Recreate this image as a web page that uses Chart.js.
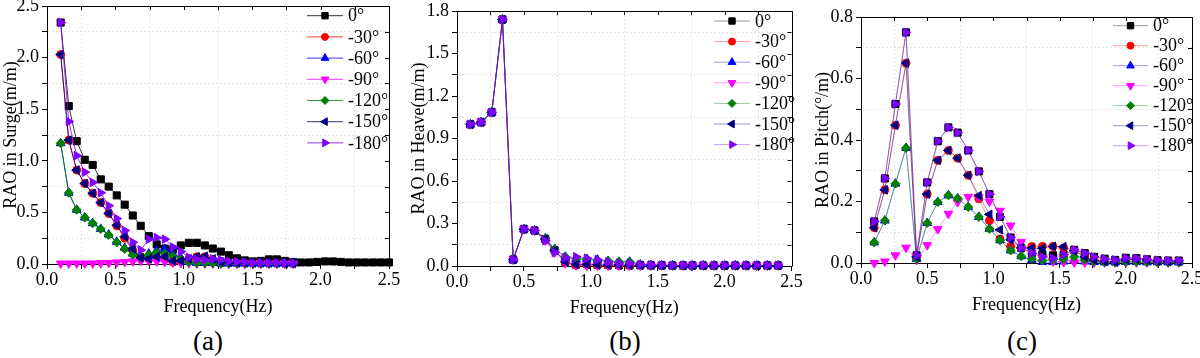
<!DOCTYPE html>
<html>
<head>
<meta charset="utf-8">
<script src="https://cdn.jsdelivr.net/npm/chart.js@4/dist/chart.umd.min.js"></script>
<style>
  body { margin: 0; width: 1200px; height: 358px; overflow: hidden; background: #fff; position: relative;
         font-family: 'Liberation Serif', 'Times New Roman', serif; }
  .panel { position: absolute; top: -10px; height: 330px; }
  .cap { position: absolute; top: 326px; font-size: 27px; line-height: 30px; transform: translateX(-50%); color: #000; }
</style>
</head>
<body>
<div class="panel" style="left:0;width:412px"><canvas id="chartSurge"></canvas></div>
<div class="panel" style="left:400px;width:412px"><canvas id="chartHeave"></canvas></div>
<div class="panel" style="left:800px;width:412px"><canvas id="chartPitch"></canvas></div>
<div class="cap" style="left:208px">(a)</div>
<div class="cap" style="left:625px">(b)</div>
<div class="cap" style="left:1022px">(c)</div>
<script>
// ---- series (wave headings) ----
var seriesLabels = ['0°', '-30°', '-60°', '-90°', '-120°', '-150°', '-180°'];
var seriesColors = ['#000000', '#ff0000', '#0000ff', '#ff00ff', '#008000', '#000080', '#8000ff'];
var markerStyles = ['rect', 'circle', 'triangle', 'triangle', 'rectRot', 'triangle', 'triangle'];
var markerRotation = [0, 0, 0, 180, 0, -90, 90];
var markerRadius = [5, 4, 5, 5, 4.5, 5, 5];

// ---- (a) surge ----
var freqSurge = [0.100, 0.159, 0.217, 0.276, 0.334, 0.393, 0.451, 0.510, 0.568, 0.627, 0.685, 0.744, 0.802, 0.861,
  0.920, 0.978, 1.037, 1.095, 1.154, 1.212, 1.271, 1.329, 1.388, 1.446, 1.505, 1.563, 1.622, 1.680, 1.739, 1.798,
  1.856, 1.915, 1.973, 2.032, 2.090, 2.149, 2.207, 2.266, 2.324, 2.383, 2.441, 2.500];
var surge0 = [2.34, 1.53, 1.19, 1.01, 0.96, 0.82, 0.75, 0.665, 0.575, 0.47, 0.37, 0.27, 0.19, 0.15, 0.14, 0.18, 0.205,
  0.205, 0.18, 0.15, 0.12, 0.085, 0.055, 0.035, 0.025, 0.03, 0.045, 0.045, 0.03, 0.02, 0.015, 0.015, 0.02, 0.025,
  0.025, 0.02, 0.015, 0.015, 0.015, 0.015, 0.015, 0.015];
var surge30 = [2.03, 1.20, 0.91, 0.78, 0.685, 0.595, 0.49, 0.37, 0.25, 0.13, 0.07, 0.05, 0.06, 0.05, 0.02, 0.03, 0.05,
  0.07, 0.07, 0.04, 0.02, 0.015, 0.01, 0.01, 0.01, 0.01, 0.01, 0.01, 0.005, 0.005];
var surge60 = [1.17, 0.69, 0.525, 0.45, 0.395, 0.34, 0.285, 0.215, 0.155, 0.10, 0.07, 0.10, 0.13, 0.145, 0.10, 0.06,
  0.02, 0.01, 0.01, 0.01, 0.005, 0.005, 0.005, 0.005, 0.005, 0.005, 0.005, 0.005, 0.005, 0.005];
var surge90 = [0.005, 0.005, 0.005, 0.005, 0.006, 0.008, 0.01, 0.015, 0.02, 0.025, 0.03, 0.03, 0.025, 0.02, 0.015,
  0.01, 0.008, 0.005, 0.005, 0.004, 0.004, 0.003, 0.003, 0.003, 0.003, 0.003, 0.003, 0.003, 0.003, 0.003];
var surge120 = [1.17, 0.69, 0.525, 0.45, 0.395, 0.34, 0.28, 0.21, 0.145, 0.09, 0.07, 0.09, 0.11, 0.10, 0.075, 0.045,
  0.02, 0.01, 0.01, 0.01, 0.005, 0.005, 0.005, 0.005, 0.005, 0.005, 0.005, 0.005, 0.005, 0.005];
var surge150 = [2.03, 1.20, 0.91, 0.78, 0.685, 0.595, 0.49, 0.375, 0.265, 0.15, 0.06, 0.05, 0.07, 0.07, 0.03, 0.03,
  0.05, 0.07, 0.075, 0.05, 0.02, 0.015, 0.01, 0.01, 0.01, 0.01, 0.01, 0.01, 0.005, 0.005];
var surge180 = [2.34, 1.38, 1.05, 0.89, 0.79, 0.69, 0.565, 0.44, 0.325, 0.21, 0.135, 0.24, 0.255, 0.24, 0.165, 0.12,
  0.065, 0.045, 0.04, 0.05, 0.04, 0.025, 0.02, 0.015, 0.01, 0.01, 0.01, 0.01, 0.01, 0.01];

// ---- (b) heave and (c) pitch share one frequency grid ----
var freqWave = [0.10, 0.18, 0.26, 0.34, 0.42, 0.50, 0.58, 0.66, 0.73, 0.81, 0.89, 0.97, 1.05, 1.13, 1.21, 1.29, 1.37,
  1.45, 1.53, 1.61, 1.69, 1.76, 1.84, 1.92, 2.00, 2.08, 2.16, 2.24, 2.32, 2.40];
var heave0 = [1.00, 1.015, 1.085, 1.74, 0.045, 0.26, 0.25, 0.19, 0.11, 0.03, 0.01, 0.015, 0.01, 0.008, 0.006, 0.005,
  0.005, 0.004, 0.004, 0.003, 0.003, 0.003, 0.003, 0.003, 0.003, 0.003, 0.003, 0.003, 0.003, 0.003];
var heave30 = [1.00, 1.015, 1.085, 1.74, 0.045, 0.26, 0.25, 0.19, 0.11, 0.025, 0.005, 0.008, 0.006, 0.005, 0.005,
  0.004, 0.004, 0.004, 0.003, 0.003, 0.003, 0.003, 0.003, 0.003, 0.003, 0.003, 0.003, 0.003, 0.003, 0.003];
var heave60 = [1.00, 1.015, 1.085, 1.74, 0.045, 0.26, 0.25, 0.195, 0.12, 0.065, 0.05, 0.05, 0.045, 0.035, 0.03, 0.03,
  0.01, 0.006, 0.005, 0.004, 0.004, 0.004, 0.004, 0.004, 0.004, 0.004, 0.004, 0.004, 0.004, 0.004];
var heave90 = [1.00, 1.015, 1.085, 1.74, 0.045, 0.26, 0.25, 0.18, 0.095, 0.02, 0.005, 0.004, 0.004, 0.003, 0.003,
  0.003, 0.003, 0.003, 0.003, 0.003, 0.003, 0.003, 0.003, 0.003, 0.003, 0.003, 0.003, 0.003, 0.003, 0.003];
var heave120 = [1.00, 1.015, 1.085, 1.74, 0.045, 0.26, 0.25, 0.195, 0.12, 0.065, 0.05, 0.05, 0.04, 0.035, 0.03, 0.03,
  0.01, 0.005, 0.005, 0.004, 0.004, 0.004, 0.004, 0.004, 0.004, 0.004, 0.004, 0.004, 0.004, 0.004];
var heave150 = [1.00, 1.015, 1.085, 1.74, 0.045, 0.26, 0.25, 0.19, 0.11, 0.03, 0.01, 0.01, 0.008, 0.006, 0.005, 0.005,
  0.004, 0.004, 0.004, 0.003, 0.003, 0.003, 0.003, 0.003, 0.003, 0.003, 0.003, 0.003, 0.003, 0.003];
var heave180 = [1.00, 1.015, 1.085, 1.74, 0.045, 0.26, 0.25, 0.18, 0.095, 0.06, 0.065, 0.055, 0.045, 0.03, 0.02, 0.02,
  0.01, 0.008, 0.006, 0.005, 0.005, 0.005, 0.005, 0.005, 0.005, 0.005, 0.005, 0.005, 0.005, 0.005];

var pitch0 = [0.135, 0.275, 0.517, 0.75, 0.025, 0.262, 0.396, 0.441, 0.424, 0.366, 0.298, 0.224, 0.15, 0.083, 0.049,
  0.032, 0.028, 0.025, 0.027, 0.043, 0.032, 0.02, 0.014, 0.01, 0.017, 0.016, 0.012, 0.009, 0.008, 0.008];
var pitch30 = [0.115, 0.238, 0.448, 0.65, 0.02, 0.224, 0.334, 0.366, 0.341, 0.285, 0.209, 0.138, 0.078, 0.054, 0.049,
  0.054, 0.054, 0.054, 0.049, 0.04, 0.02, 0.01, 0.005, 0.003, 0.01, 0.012, 0.01, 0.006, 0.005, 0.005];
var pitch60 = [0.067, 0.138, 0.258, 0.374, 0.013, 0.13, 0.198, 0.22, 0.21, 0.182, 0.15, 0.111, 0.074, 0.041, 0.022,
  0.01, 0.003, 0.003, 0.005, 0.01, 0.005, 0.003, 0.002, 0.002, 0.003, 0.003, 0.002, 0.002, 0.002, 0.002];
var pitch90 = [0.0, 0.005, 0.025, 0.05, 0.01, 0.058, 0.11, 0.16, 0.198, 0.215, 0.215, 0.20, 0.17, 0.122, 0.068, 0.035,
  0.015, 0.005, 0.003, 0.002, 0.002, 0.002, 0.002, 0.002, 0.002, 0.002, 0.002, 0.002, 0.002, 0.002];
var pitch120 = [0.067, 0.138, 0.258, 0.374, 0.013, 0.13, 0.198, 0.22, 0.21, 0.182, 0.15, 0.111, 0.074, 0.041, 0.022,
  0.014, 0.008, 0.011, 0.013, 0.02, 0.011, 0.005, 0.003, 0.002, 0.004, 0.004, 0.003, 0.002, 0.002, 0.002];
var pitch150 = [0.115, 0.238, 0.448, 0.65, 0.02, 0.224, 0.334, 0.366, 0.341, 0.285, 0.219, 0.158, 0.108, 0.076, 0.049,
  0.048, 0.048, 0.054, 0.053, 0.04, 0.02, 0.01, 0.005, 0.003, 0.01, 0.012, 0.01, 0.006, 0.005, 0.005];
var pitch180 = [0.135, 0.275, 0.517, 0.75, 0.025, 0.262, 0.396, 0.441, 0.424, 0.366, 0.298, 0.224, 0.15, 0.083, 0.049,
  0.032, 0.02, 0.015, 0.027, 0.043, 0.032, 0.02, 0.014, 0.01, 0.016, 0.015, 0.012, 0.009, 0.008, 0.008];

var serif = "'Liberation Serif', 'Times New Roman', serif";
Chart.defaults.font.family = serif;
Chart.defaults.font.size = 18;
Chart.defaults.color = '#000';

function withAlpha(hex, a) {
    var r = parseInt(hex.substr(1, 2), 16), g = parseInt(hex.substr(3, 2), 16), b = parseInt(hex.substr(5, 2), 16);
    return 'rgba(' + r + ',' + g + ',' + b + ',' + a + ')';
}

function isMajor(v, major) {
    var q = v / major;
    return Math.abs(q - Math.round(q)) < 1e-6;
}

function buildSets(freqs, values, lineAlpha) {
    return seriesLabels.map(function(lab, i) {
        var xs = freqs[i];
        return {
            label: lab,
            data: values[i].map(function(v, j) { return { x: xs[j], y: v }; }),
            borderColor: withAlpha(seriesColors[i], lineAlpha),
            backgroundColor: seriesColors[i],
            pointBackgroundColor: seriesColors[i],
            pointBorderColor: seriesColors[i],
            pointStyle: markerStyles[i],
            pointRotation: markerRotation[i],
            pointRadius: markerRadius[i],
            pointBorderWidth: 1,
            borderWidth: 1,
            tension: 0,
            clip: false,
            order: 7 - i
        };
    });
}

// frame on top/right with inward ticks (Origin style box)
var framePlugin = {
    id: 'frame',
    beforeDatasetsDraw: function(chart) {
        var a = chart.chartArea, ctx = chart.ctx;
        var xs = chart.scales.x, ys = chart.scales.y;
        ctx.save();
        ctx.strokeStyle = '#000';
        ctx.lineWidth = 1;
        ctx.beginPath();
        ctx.moveTo(Math.round(a.left) + 0.5, Math.round(a.top) + 0.5);
        ctx.lineTo(Math.round(a.right) + 0.5, Math.round(a.top) + 0.5);
        ctx.lineTo(Math.round(a.right) + 0.5, Math.round(a.bottom) + 0.5);
        xs.ticks.forEach(function(t) {
            var px = Math.round(xs.getPixelForValue(t.value)) + 0.5;
            ctx.moveTo(px, a.top);
            ctx.lineTo(px, a.top + 4);
        });
        ys.ticks.forEach(function(t) {
            var py = Math.round(ys.getPixelForValue(t.value)) + 0.5;
            ctx.moveTo(a.right, py);
            ctx.lineTo(a.right - 4, py);
        });
        ctx.stroke();
        ctx.restore();
    }
};

// legend drawn inside the plot: line + marker + label
var boxLegend = {
    id: 'boxLegend',
    afterDraw: function(chart, args, opts) {
        var ctx = chart.ctx;
        ctx.save();
        chart.data.datasets.forEach(function(ds, i) {
            var y = opts.y + i * opts.dy;
            ctx.strokeStyle = ds.borderColor;
            ctx.lineWidth = 1;
            ctx.beginPath();
            ctx.moveTo(opts.x, y);
            ctx.lineTo(opts.x + opts.len, y);
            ctx.stroke();
            ctx.fillStyle = ds.pointBackgroundColor;
            ctx.strokeStyle = ds.pointBorderColor;
            Chart.helpers.drawPoint(ctx, {
                pointStyle: ds.pointStyle, rotation: ds.pointRotation,
                radius: ds.pointRadius - 0.5, borderWidth: 1
            }, opts.x + opts.len / 2, y);
            ctx.fillStyle = '#000';
            ctx.font = '18px ' + serif;
            ctx.textAlign = 'left';
            ctx.textBaseline = 'middle';
            ctx.fillText(ds.label, opts.textX, y + 1);
        });
        ctx.restore();
    }
};

function makePanel(id, sets, cfg) {
    var tickFmt = function(major) {
        return function(v) { return isMajor(v, major) ? v.toFixed(1) : ''; };
    };
    var gridFor = function(major) {
        return function(c) {
            var v = c.tick ? c.tick.value : 0;
            return isMajor(v, major) ? 'rgba(0,0,0,0)' : '#e4e4e4';
        };
    };
    new Chart(document.getElementById(id).getContext('2d'), {
        type: 'line',
        data: { datasets: sets },
        options: {
            responsive: true,
            maintainAspectRatio: false,
            animation: false,
            events: [],
            layout: { padding: { left: 0, top: cfg.padTop, right: cfg.padRight, bottom: 0 } },
            plugins: {
                legend: { display: false },
                tooltip: { enabled: false },
                boxLegend: cfg.legend
            },
            scales: {
                x: {
                    type: 'linear',
                    min: 0, max: 2.5,
                    ticks: { stepSize: 0.25, autoSkip: false, maxRotation: 0, padding: 0, callback: tickFmt(0.5) },
                    grid: { color: gridFor(0.5), tickColor: '#000', tickLength: 5, lineWidth: 1 },
                    border: { color: '#000', width: 1, dash: [2, 2] },
                    title: { display: true, text: 'Frequency(Hz)', padding: { top: 0, bottom: cfg.xTitlePad } },
                    afterFit: function(s) { s.height = cfg.xHeight; }
                },
                y: {
                    min: 0, max: cfg.yMax,
                    ticks: { stepSize: cfg.yStep / 2, autoSkip: false, padding: 3, callback: tickFmt(cfg.yStep) },
                    grid: { color: gridFor(cfg.yStep), tickColor: '#000', tickLength: 5, lineWidth: 1 },
                    border: { color: '#000', width: 1, dash: [2, 2] },
                    title: { display: true, text: cfg.yTitle, padding: { top: cfg.yTitlePad, bottom: 0 } },
                    afterFit: function(s) { s.width = cfg.yWidth; }
                }
            }
        },
        plugins: [framePlugin, boxLegend]
    });
}

var surgeFreqs = seriesLabels.map(function(l, i) { return i === 0 ? freqSurge : freqSurge.slice(0, 30); });
var waveFreqs = seriesLabels.map(function() { return freqWave; });

makePanel('chartSurge',
    buildSets(surgeFreqs, [surge0, surge30, surge60, surge90, surge120, surge150, surge180], 0.8),
    { yMax: 2.5, yStep: 0.5, yTitle: 'RAO in Surge(m/m)', padTop: 16, padRight: 23, yWidth: 47, xHeight: 56,
      xTitlePad: 2, yTitlePad: 0, legend: { x: 307, len: 36, textX: 348, y: 25.7, dy: 21.2 } });

makePanel('chartHeave',
    buildSets(waveFreqs, [heave0, heave30, heave60, heave90, heave120, heave150, heave180], 0.4),
    { yMax: 1.8, yStep: 0.3, yTitle: 'RAO in Heave(m/m)', padTop: 21, padRight: 20.5, yWidth: 57, xHeight: 54,
      xTitlePad: 1, yTitlePad: 8, legend: { x: 314, len: 36, textX: 355, y: 31, dy: 20.6 } });

makePanel('chartPitch',
    buildSets(waveFreqs, [pitch0, pitch30, pitch60, pitch90, pitch120, pitch150, pitch180], 0.4),
    { yMax: 0.8, yStep: 0.2, yTitle: 'RAO in Pitch(°/m)', padTop: 27, padRight: 20, yWidth: 61, xHeight: 57,
      xTitlePad: 4, yTitlePad: 12, legend: { x: 313, len: 35, textX: 353, y: 35.7, dy: 20 } });
</script>
</body>
</html>
